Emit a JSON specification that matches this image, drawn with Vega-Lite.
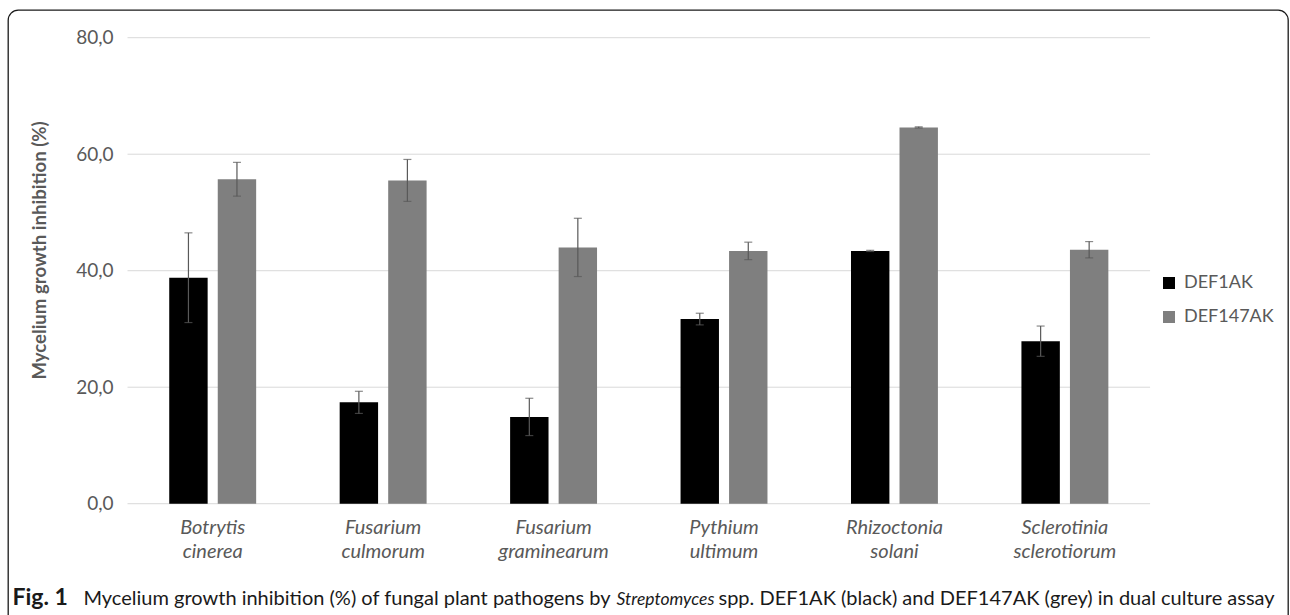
{
  "$schema": "https://vega.github.io/schema/vega-lite/v6.json",
  "width": 1280,
  "height": 615,
  "autosize": {"type": "none"},
  "padding": {"left": 8, "top": 10, "right": 2, "bottom": 0},
  "background": "white",
  "view": {"stroke": "#1a1a1a", "strokeWidth": 1.3, "cornerRadius": 10, "fill": null},
  "config": {"font": "Lato"},
  "datasets": {
    "inhibition": [
      {"pathogen": "Botrytis cinerea", "strain": "DEF1AK", "value": 38.8, "lo": 31.1, "hi": 46.5},
      {"pathogen": "Botrytis cinerea", "strain": "DEF147AK", "value": 55.7, "lo": 52.8, "hi": 58.6},
      {"pathogen": "Fusarium culmorum", "strain": "DEF1AK", "value": 17.4, "lo": 15.5, "hi": 19.3},
      {"pathogen": "Fusarium culmorum", "strain": "DEF147AK", "value": 55.5, "lo": 51.9, "hi": 59.1},
      {"pathogen": "Fusarium graminearum", "strain": "DEF1AK", "value": 14.9, "lo": 11.7, "hi": 18.1},
      {"pathogen": "Fusarium graminearum", "strain": "DEF147AK", "value": 44.0, "lo": 39.0, "hi": 49.0},
      {"pathogen": "Pythium ultimum", "strain": "DEF1AK", "value": 31.7, "lo": 30.7, "hi": 32.7},
      {"pathogen": "Pythium ultimum", "strain": "DEF147AK", "value": 43.4, "lo": 41.9, "hi": 44.9},
      {"pathogen": "Rhizoctonia solani", "strain": "DEF1AK", "value": 43.4, "lo": 43.3, "hi": 43.5},
      {"pathogen": "Rhizoctonia solani", "strain": "DEF147AK", "value": 64.6, "lo": 64.5, "hi": 64.7},
      {"pathogen": "Sclerotinia sclerotiorum", "strain": "DEF1AK", "value": 27.9, "lo": 25.3, "hi": 30.5},
      {"pathogen": "Sclerotinia sclerotiorum", "strain": "DEF147AK", "value": 43.6, "lo": 42.2, "hi": 45.0}
    ],
    "gridlines": [
      {"level": 0}, {"level": 20}, {"level": 40}, {"level": 60}, {"level": 80}
    ]
  },
  "resolve": {"axis": {"x": "independent", "y": "independent"}},
  "layer": [
    {
      "data": {"name": "gridlines"},
      "mark": {"type": "rule", "color": "#d9d9d9", "strokeWidth": 1},
      "encoding": {
        "y": {"field": "level", "type": "quantitative", "scale": {"domain": [-20.82, 84.755], "nice": false, "zero": false}, "axis": null},
        "x": {"datum": "Botrytis cinerea", "type": "nominal", "bandPosition": -0.48, "scale": {"type": "band", "paddingInner": 0.49, "paddingOuter": 1.041, "align": 0.473}, "axis": null},
        "x2": {"datum": "Sclerotinia sclerotiorum", "bandPosition": 1.48}
      }
    },
    {
      "data": {"name": "inhibition"},
      "mark": {"type": "bar"},
      "encoding": {
        "x": {
          "field": "pathogen", "type": "nominal",
          "scale": {"type": "band", "paddingInner": 0.49, "paddingOuter": 1.041, "align": 0.473},
          "axis": {
            "orient": "bottom", "offset": -121.3, "domain": false, "ticks": false, "tickSize": 0, "grid": false,
            "labelPadding": 14, "labelFontSize": 20, "labelFontStyle": "italic", "labelColor": "#595959",
            "labelExpr": "split(datum.label, ' ')", "labelLineHeight": 24, "labelAngle": 0,
            "title": "Fig. 1", "titleFontSize": 23, "titleFontWeight": "bold", "titleColor": "#1a1a1a",
            "titleX": 4, "titleY": 100.5, "titleAlign": "left", "titleAnchor": "start", "titleBaseline": "alphabetic"
          }
        },
        "xOffset": {"field": "strain", "type": "nominal", "scale": {"domain": ["DEF1AK", "DEF147AK"], "paddingInner": 0.2083, "paddingOuter": 0}},
        "y": {
          "field": "value", "type": "quantitative",
          "scale": {"domain": [-20.82, 84.755], "nice": false, "zero": false},
          "axis": {
            "values": [0, 20, 40, 60, 80], "offset": -125, "domain": false, "ticks": false, "tickSize": 0, "grid": false,
            "labelPadding": 20, "labelFontSize": 19, "labelColor": "#595959",
            "labelExpr": "replace(format(datum.value, '.1f'), '.', ',')",
            "title": "Mycelium growth inhibition (%)", "titleFontSize": 18.6, "titleFontWeight": "bold", "titleColor": "#595959",
            "titleX": -94, "titleY": 240, "titleAngle": -90, "titleAlign": "center", "titleBaseline": "middle"
          }
        },
        "y2": {"datum": 0},
        "color": {
          "field": "strain", "type": "nominal",
          "scale": {"domain": ["DEF1AK", "DEF147AK"], "range": ["#000000", "#7f7f7f"]},
          "legend": {
            "orient": "none", "legendX": 1152, "legendY": 264, "title": null, "padding": 0,
            "symbolType": "square", "symbolSize": 144, "symbolStrokeWidth": 0,
            "labelFontSize": 18, "labelColor": "#595959", "labelOffset": 6, "rowPadding": 16
          }
        }
      }
    },
    {
      "data": {"name": "inhibition"},
      "mark": {"type": "rule", "color": "#595959", "strokeWidth": 1.2},
      "encoding": {
        "x": {
          "field": "pathogen", "type": "nominal",
          "scale": {"type": "band", "paddingInner": 0.49, "paddingOuter": 1.041, "align": 0.473},
          "axis": {
            "orient": "bottom", "labels": false, "ticks": false, "domain": false, "grid": false,
            "title": "Mycelium growth inhibition (%) of fungal plant pathogens by", "titleFontSize": 20, "titleFontWeight": "normal", "titleColor": "#1a1a1a",
            "titleX": 75, "titleY": -20.5, "titleAlign": "left", "titleAnchor": "start", "titleBaseline": "alphabetic"
          }
        },
        "xOffset": {"field": "strain", "type": "nominal", "scale": {"domain": ["DEF1AK", "DEF147AK"], "paddingInner": 0.2083, "paddingOuter": 0}},
        "y": {"field": "lo", "type": "quantitative", "scale": {"domain": [-20.82, 84.755], "nice": false, "zero": false}, "axis": null},
        "y2": {"field": "hi"}
      }
    },
    {
      "data": {"name": "inhibition"},
      "mark": {"type": "tick", "color": "#595959", "thickness": 1.2, "size": 8},
      "encoding": {
        "x": {
          "field": "pathogen", "type": "nominal",
          "scale": {"type": "band", "paddingInner": 0.49, "paddingOuter": 1.041, "align": 0.473},
          "axis": {
            "orient": "bottom", "labels": false, "ticks": false, "domain": false, "grid": false,
            "title": "Streptomyces", "titleFontSize": 17.5, "titleFontWeight": "normal", "titleFontStyle": "italic", "titleColor": "#1a1a1a",
            "titleX": 608, "titleY": -20.5, "titleAlign": "left", "titleAnchor": "start", "titleBaseline": "alphabetic"
          }
        },
        "xOffset": {"field": "strain", "type": "nominal", "scale": {"domain": ["DEF1AK", "DEF147AK"], "paddingInner": 0.2083, "paddingOuter": 0}},
        "y": {"field": "lo", "type": "quantitative", "scale": {"domain": [-20.82, 84.755], "nice": false, "zero": false}, "axis": null}
      }
    },
    {
      "data": {"name": "inhibition"},
      "mark": {"type": "tick", "color": "#595959", "thickness": 1.2, "size": 8},
      "encoding": {
        "x": {
          "field": "pathogen", "type": "nominal",
          "scale": {"type": "band", "paddingInner": 0.49, "paddingOuter": 1.041, "align": 0.473},
          "axis": {
            "orient": "bottom", "labels": false, "ticks": false, "domain": false, "grid": false,
            "title": "spp. DEF1AK (black) and DEF147AK (grey) in dual culture assay", "titleFontSize": 20, "titleFontWeight": "normal", "titleColor": "#1a1a1a",
            "titleX": 710, "titleY": -20.5, "titleAlign": "left", "titleAnchor": "start", "titleBaseline": "alphabetic"
          }
        },
        "xOffset": {"field": "strain", "type": "nominal", "scale": {"domain": ["DEF1AK", "DEF147AK"], "paddingInner": 0.2083, "paddingOuter": 0}},
        "y": {"field": "hi", "type": "quantitative", "scale": {"domain": [-20.82, 84.755], "nice": false, "zero": false}, "axis": null}
      }
    }
  ]
}
